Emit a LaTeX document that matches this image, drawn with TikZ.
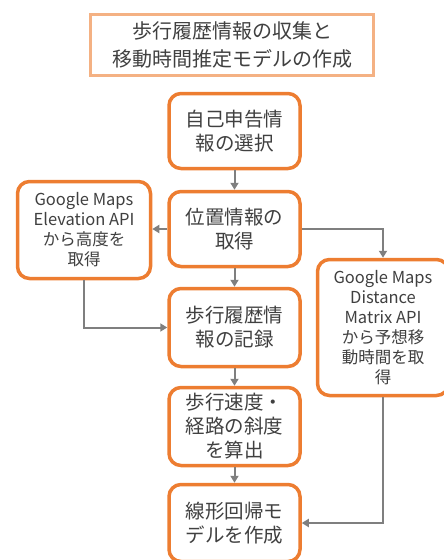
\documentclass[tikz,border=0pt]{standalone}
\usepackage{fontspec}
\setmainfont{Noto Sans CJK JP}
\usetikzlibrary{arrows.meta}
\definecolor{boxorange}{HTML}{ED7D31}
\definecolor{titleorange}{HTML}{F4B183}
\definecolor{arrgray}{HTML}{7F7F7F}
\definecolor{txtgray}{HTML}{404040}
\tikzset{
  stepbox/.style={draw=boxorange, line width=3.5pt, rounded corners=12pt, fill=white,
    minimum width=131pt, align=center, text=txtgray, inner sep=2pt,
    font=\fontsize{19.5}{24}\selectfont},
  sidebox/.style={stepbox, font=\fontsize{16.5}{20}\selectfont},
  titlebox/.style={draw=titleorange, line width=3pt, fill=white, align=center, text=txtgray,
    minimum width=283pt, minimum height=61pt, font=\fontsize{20}{28}\selectfont},
  arr/.style={draw=arrgray, line width=2pt, -{Triangle[length=7pt,width=8pt]}}
}
\begin{document}
\begin{tikzpicture}[x=1pt,y=-1pt]
\useasboundingbox (0,0) rectangle (444,560);
\clip (0,0) rectangle (444,560);
\node[titlebox] (title) at (232,45) {歩行履歴情報の収集と\\移動時間推定モデルの作成};
\node[stepbox, minimum height=75pt] (b1) at (234.5,131) {自己申告情\\報の選択};
\node[stepbox, minimum height=75pt] (b2) at (234.5,229) {位置情報の\\取得};
\node[stepbox, minimum height=78pt] (b3) at (234.5,327.5) {歩行履歴情\\報の記録};
\node[stepbox, minimum height=78pt] (b4) at (234.5,426.5) {歩行速度・\\経路の斜度\\を算出};
\node[stepbox, minimum height=77pt] (b5) at (234.5,523) {線形回帰モ\\デルを作成};
\node[sidebox, minimum width=133pt, minimum height=97pt] (left) at (84,230) {Google Maps\\Elevation API\\から高度を\\取得};
\node[sidebox, minimum width=131pt, minimum height=136pt] (right) at (383,327.5) {Google Maps\\Distance\\Matrix API\\から予想移\\動時間を取\\得};
\draw[arr] (b1) -- (b2);
\draw[arr] (b2) -- (b3);
\draw[arr] (b3) -- (b4);
\draw[arr] (b4) -- (b5);
\draw[arr] (b2.west) -- (b2.west -| left.east);
\draw[arr] (b2.east) -| (right.north);
\draw[arr] (left.south) |- (b3.west);
\draw[arr] (right.south) |- (b5.east);
\end{tikzpicture}
\end{document}
